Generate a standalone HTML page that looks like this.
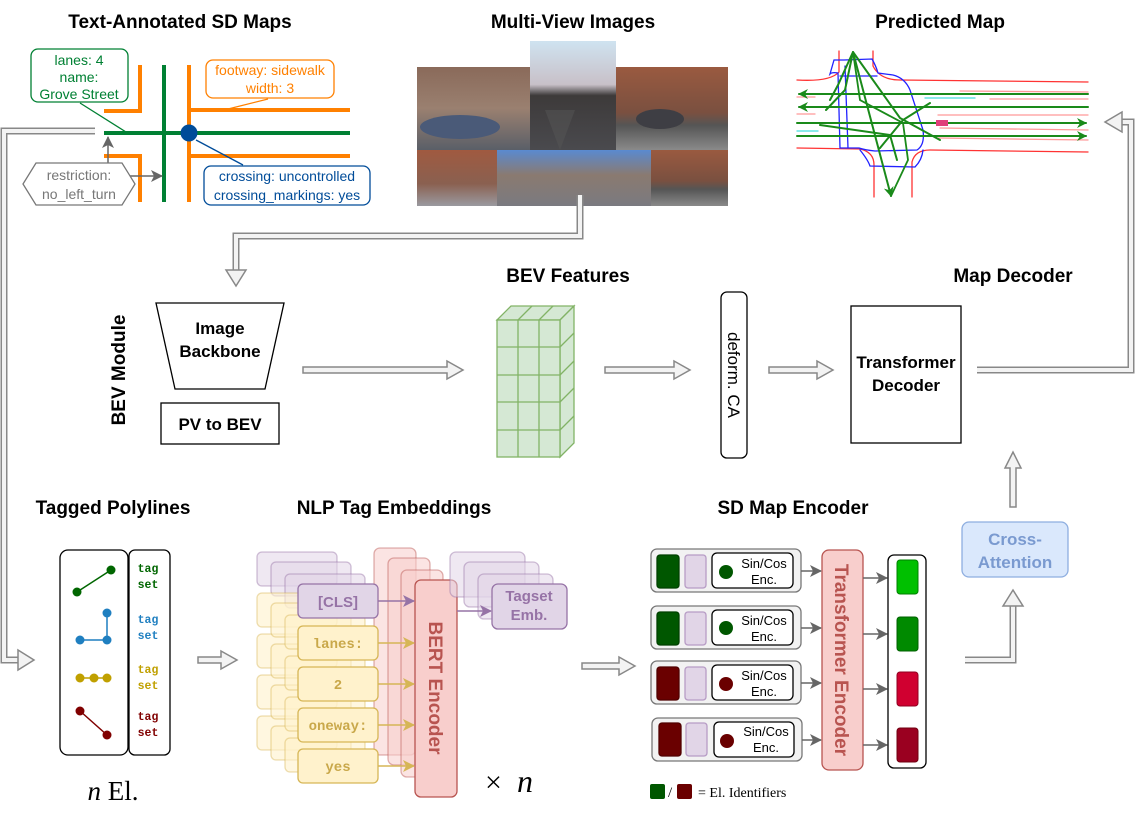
<!DOCTYPE html>
<html><head><meta charset="utf-8"><style>
html,body{margin:0;padding:0;background:#fff}
svg{display:block}
text{font-family:"Liberation Sans",sans-serif}
.t{font-weight:bold;font-size:19px;text-anchor:middle;fill:#000}
text.mono{font-family:"Liberation Mono",monospace;font-weight:bold}
text.serif{font-family:"Liberation Serif",serif}
</style></head><body>
<svg width="1136" height="820" viewBox="0 0 1136 820" xmlns="http://www.w3.org/2000/svg">
<defs>
<marker id="ag" markerWidth="8" markerHeight="8" refX="7" refY="4" orient="auto" markerUnits="userSpaceOnUse"><path d="M0,0 L8,4 L0,8 L2,4z" fill="#666"/></marker>
<marker id="ag2" markerWidth="12" markerHeight="12" refX="11" refY="6" orient="auto" markerUnits="userSpaceOnUse"><path d="M0,0 L12,6 L0,12 L3,6z" fill="#666"/></marker>
<marker id="ap" markerWidth="12" markerHeight="12" refX="11" refY="6" orient="auto" markerUnits="userSpaceOnUse"><path d="M0,0 L12,6 L0,12 L3,6z" fill="#9673a6"/></marker>
<marker id="ay" markerWidth="12" markerHeight="12" refX="11" refY="6" orient="auto" markerUnits="userSpaceOnUse"><path d="M0,0 L12,6 L0,12 L3,6z" fill="#d6b656"/></marker>
<marker id="gr" markerWidth="10" markerHeight="10" refX="9" refY="5" orient="auto" markerUnits="userSpaceOnUse"><path d="M0,0 L10,5 L0,10 L3,5z" fill="#1a8a1a"/></marker>
</defs>

<!-- Titles -->
<text class="t" x="180" y="28">Text-Annotated SD Maps</text>
<text class="t" x="573" y="28">Multi-View Images</text>
<text class="t" x="940" y="28">Predicted Map</text>
<text class="t" x="568" y="282">BEV Features</text>
<text class="t" x="1013" y="282">Map Decoder</text>
<text class="t" x="113" y="514">Tagged Polylines</text>
<text class="t" x="394" y="514">NLP Tag Embeddings</text>
<text class="t" x="793" y="514">SD Map Encoder</text>

<!-- SD map -->
<g fill="none" stroke="#ff8000" stroke-width="4">
<polyline points="140,65 140,111 104,111"/>
<polyline points="104,156 140,156 140,202"/>
<line x1="189" y1="65" x2="189" y2="202"/>
<line x1="189" y1="110" x2="350" y2="110"/>
<line x1="189" y1="156" x2="350" y2="156"/>
</g>
<g stroke="#008033" stroke-width="4">
<line x1="164" y1="65" x2="164" y2="202"/>
<line x1="104" y1="133" x2="350" y2="133"/>
</g>
<circle cx="189" cy="133" r="8.5" fill="#004c99"/>
<line x1="80" y1="103" x2="126" y2="132" stroke="#008033" stroke-width="1.3"/>
<line x1="268" y1="99" x2="228" y2="109" stroke="#ff8000" stroke-width="1.3"/>
<line x1="196" y1="140" x2="243" y2="165" stroke="#004c99" stroke-width="1.3"/>
<rect x="31" y="49" width="97" height="53" rx="7" fill="#fff" stroke="#008033" stroke-width="1.3"/>
<text x="79" y="65" font-size="14" fill="#008033" text-anchor="middle">lanes: 4</text>
<text x="79" y="82" font-size="14" fill="#008033" text-anchor="middle">name:</text>
<text x="79" y="99" font-size="14" fill="#008033" text-anchor="middle">Grove Street</text>
<rect x="206" y="60" width="128" height="38" rx="7" fill="#fff" stroke="#ff8000" stroke-width="1.3"/>
<text x="270" y="75" font-size="14" fill="#ff8000" text-anchor="middle">footway: sidewalk</text>
<text x="270" y="93" font-size="14" fill="#ff8000" text-anchor="middle">width: 3</text>
<rect x="204" y="166" width="166" height="39" rx="7" fill="#fff" stroke="#004c99" stroke-width="1.3"/>
<text x="287" y="181" font-size="14" fill="#004c99" text-anchor="middle">crossing: uncontrolled</text>
<text x="287" y="200" font-size="14" fill="#004c99" text-anchor="middle">crossing_markings: yes</text>
<line x1="108" y1="163" x2="108" y2="137" stroke="#666" stroke-width="1.5" marker-end="url(#ag2)"/>
<line x1="130" y1="176" x2="162" y2="176" stroke="#666" stroke-width="1.5" marker-end="url(#ag2)"/>
<polygon points="36,163 122,163 135,184 122,205 36,205 23,184" fill="#fff" stroke="#777" stroke-width="1.3"/>
<text x="79" y="180" font-size="14" fill="#777" text-anchor="middle">restriction:</text>
<text x="79" y="199" font-size="14" fill="#777" text-anchor="middle">no_left_turn</text>

<!-- Multi-view images -->
<defs>
<linearGradient id="g1" x1="0" y1="0" x2="0" y2="1"><stop offset="0" stop-color="#8a6a5a"/><stop offset="0.5" stop-color="#9a8070"/><stop offset="1" stop-color="#5a5f68"/></linearGradient>
<linearGradient id="g2" x1="0" y1="0" x2="0" y2="1"><stop offset="0" stop-color="#cfe3f0"/><stop offset="0.4" stop-color="#c8c0c8"/><stop offset="0.5" stop-color="#3d3a3a"/><stop offset="1" stop-color="#4a4a4e"/></linearGradient>
<linearGradient id="g3" x1="0" y1="0" x2="0" y2="1"><stop offset="0" stop-color="#9a5a40"/><stop offset="0.55" stop-color="#7a5040"/><stop offset="0.7" stop-color="#555"/><stop offset="1" stop-color="#8a8a8a"/></linearGradient>
<linearGradient id="g4" x1="0" y1="0" x2="0" y2="1"><stop offset="0" stop-color="#a05a40"/><stop offset="0.6" stop-color="#8a6050"/><stop offset="1" stop-color="#9a9aa0"/></linearGradient>
<linearGradient id="g5" x1="0" y1="0" x2="0" y2="1"><stop offset="0" stop-color="#5a8ad0"/><stop offset="0.45" stop-color="#8a7a70"/><stop offset="1" stop-color="#7a7a80"/></linearGradient>
</defs>
<rect x="417" y="67" width="113" height="83" fill="url(#g1)"/>
<rect x="530" y="41" width="86" height="109" fill="url(#g2)"/>
<rect x="616" y="67" width="112" height="83" fill="url(#g3)"/>
<rect x="417" y="150" width="80" height="56" fill="url(#g4)"/>
<rect x="497" y="150" width="154" height="56" fill="url(#g5)"/>
<rect x="651" y="150" width="77" height="56" fill="url(#g3)"/>
<ellipse cx="460" cy="127" rx="40" ry="12" fill="#4a5a78"/>
<ellipse cx="660" cy="119" rx="24" ry="10" fill="#3e3e44"/>
<path d="M560,150 L545,110 L575,110 Z" fill="#555" opacity="0.5"/>

<!-- Predicted map -->
<g fill="none" stroke-linecap="round">
<path d="M797,80 Q830,82 839,72 L839,51 M873,51 L873,66 Q880,80 900,80 L1088,82" stroke="#f33" stroke-width="1.3"/>
<path d="M797,148 L860,149 Q874,152 874,165 L874,197 M912,197 L912,162 Q915,150 930,150 L1088,152" stroke="#f33" stroke-width="1.3"/>
<path d="M960,91 L1088,92 M990,99 L1088,99 M797,97 L815,97 M797,114 L815,114 M938,115 L1088,115 M938,138 L1088,140 M940,128 L1088,130" stroke="#f99" stroke-width="1.3"/>
<path d="M925,98 L975,98 M797,131 L818,131" stroke="#4dd" stroke-width="1.3"/>
<path d="M834,60 L844,60 L872,59 Q876,66 878,73 L893,75 Q905,78 910,90 L923,130 Q925,145 917,150 L875,151 Q865,150 859,148 L840,148 L838,73 Q832,72 830,74 Z M840,76 L877,76 M845,66 L848,148 M860,150 Q868,160 870,166 L915,167 Q922,160 923,150" stroke="#22f" stroke-width="1.3"/>
<g stroke="#1a8a1a" stroke-width="2">
<line x1="1088" y1="94" x2="799" y2="94" marker-end="url(#gr)"/>
<line x1="1088" y1="107" x2="799" y2="107" marker-end="url(#gr)"/>
<line x1="797" y1="123" x2="1086" y2="123" marker-end="url(#gr)"/>
<line x1="797" y1="136" x2="1086" y2="136" marker-end="url(#gr)"/>
<line x1="853" y1="52" x2="891" y2="196" marker-end="url(#gr)"/>
<path d="M853,52 L860,100 L903,123 L908,160 L891,196" stroke-width="1.8"/>
<path d="M853,52 L838,85 L830,100 M853,52 L845,90 L826,110 M853,52 L900,118 L940,140 M930,103 L903,120 L880,148 M820,125 L890,135 L897,160"/>
</g>
</g>
<rect x="936" y="120" width="12" height="6" fill="#e0407a"/>

<!-- pipes -->
<g fill="none" stroke-linejoin="miter">
<polyline points="95,131 4,131 4,660 20,660" stroke="#888" stroke-width="7"/>
<polyline points="95,131 4,131 4,660 20,660" stroke="#f3f3f3" stroke-width="4"/>
<polyline points="580,195 580,236 236,236 236,272" stroke="#888" stroke-width="7"/>
<polyline points="580,195 580,236 236,236 236,272" stroke="#f3f3f3" stroke-width="4"/>
<polyline points="977,370 1131,370 1131,122 1120,122" stroke="#888" stroke-width="7"/>
<polyline points="977,370 1131,370 1131,122 1120,122" stroke="#f3f3f3" stroke-width="4"/>
<polyline points="965,660 1013,660 1013,604" stroke="#888" stroke-width="7"/>
<polyline points="965,660 1013,660 1013,604" stroke="#f3f3f3" stroke-width="4"/>
</g>
<g fill="#f3f3f3" stroke="#888" stroke-width="1.5">
<polygon points="18,650 34,660 18,670"/>
<polygon points="226,270 236,286 246,270"/>
<polygon points="1122,112 1105,122 1122,132"/>
<polygon points="1003,606 1013,590 1023,606"/>
<polygon points="303,367 447,367 447,361 463,370 447,379 447,373 303,373"/>
<polygon points="605,367 674,367 674,361 690,370 674,379 674,373 605,373"/>
<polygon points="769,367 817,367 817,361 833,370 817,379 817,373 769,373"/>
<polygon points="198,657 221,657 221,651 237,660 221,669 221,663 198,663"/>
<polygon points="582,663 619,663 619,657 635,666 619,675 619,669 582,669"/>
<polygon points="1010,507 1010,468 1005,468 1013,452 1021,468 1016,468 1016,507"/>
</g>

<!-- BEV module -->
<text x="118" y="370" font-size="19" font-weight="bold" text-anchor="middle" transform="rotate(-90 118 370)" dy="7">BEV Module</text>
<polygon points="156,303 284,303 265,389 175,389" fill="#fff" stroke="#000" stroke-width="1.3"/>
<text x="220" y="334" font-size="17" font-weight="bold" text-anchor="middle">Image</text>
<text x="220" y="357" font-size="17" font-weight="bold" text-anchor="middle">Backbone</text>
<rect x="161" y="403" width="118" height="41" fill="#fff" stroke="#000" stroke-width="1.3"/>
<text x="220" y="430" font-size="17" font-weight="bold" text-anchor="middle">PV to BEV</text>

<!-- cube -->
<g fill="#d5e8d4" stroke="#82b366" stroke-width="1.3">
<polygon points="497,320 511,306 574,306 560,320"/>
<polygon points="560,320 574,306 574,443 560,457"/>
<rect x="497" y="320" width="63" height="137"/>
<path d="M518,320 V457 M539,320 V457 M497,347 H560 M497,375 H560 M497,402 H560 M497,430 H560 M518,320 L532,306 M539,320 L553,306 M560,347 L574,333 M560,375 L574,361 M560,402 L574,388 M560,430 L574,416" fill="none"/>
</g>

<!-- deform CA -->
<rect x="721" y="292" width="26" height="166" rx="6" fill="#fff" stroke="#000" stroke-width="1.3"/>
<text x="734" y="375" font-size="17" text-anchor="middle" transform="rotate(90 734 375)" dy="6">deform. CA</text>

<!-- Transformer Decoder -->
<rect x="851" y="306" width="110" height="137" fill="#fff" stroke="#000" stroke-width="1.3"/>
<text x="906" y="368" font-size="17" font-weight="bold" text-anchor="middle">Transformer</text>
<text x="906" y="391" font-size="17" font-weight="bold" text-anchor="middle">Decoder</text>

<!-- Cross-Attention -->
<rect x="962" y="522" width="106" height="55" rx="7" fill="#dae8fc" stroke="#8eaee0" stroke-width="1.3"/>
<text x="1015" y="545" font-size="17" font-weight="bold" fill="#7a9ad0" text-anchor="middle">Cross-</text>
<text x="1015" y="568" font-size="17" font-weight="bold" fill="#7a9ad0" text-anchor="middle">Attention</text>

<!-- Tagged polylines -->
<rect x="60" y="550" width="68" height="205" rx="8" fill="#fff" stroke="#000" stroke-width="1.3"/>
<rect x="129" y="550" width="41" height="205" rx="6" fill="#fff" stroke="#000" stroke-width="1.3"/>
<g stroke-width="1.5">
<line x1="77" y1="592" x2="111" y2="570" stroke="#006600"/><circle cx="77" cy="592" r="4.5" fill="#006600"/><circle cx="111" cy="570" r="4.5" fill="#006600"/>
<polyline points="80,640 107,640 107,613" fill="none" stroke="#1f7fc0"/><circle cx="80" cy="640" r="4.5" fill="#1f7fc0"/><circle cx="107" cy="640" r="4.5" fill="#1f7fc0"/><circle cx="107" cy="613" r="4.5" fill="#1f7fc0"/>
<line x1="80" y1="678" x2="107" y2="678" stroke="#c0a000"/><circle cx="80" cy="678" r="4.5" fill="#c0a000"/><circle cx="94" cy="678" r="4.5" fill="#c0a000"/><circle cx="107" cy="678" r="4.5" fill="#c0a000"/>
<line x1="80" y1="711" x2="107" y2="735" stroke="#800000"/><circle cx="80" cy="711" r="4.5" fill="#800000"/><circle cx="107" cy="735" r="4.5" fill="#800000"/>
</g>
<g font-size="11.5" text-anchor="middle">
<text x="148" y="572" fill="#006600" class="mono">tag</text><text x="148" y="588" fill="#006600" class="mono">set</text>
<text x="148" y="623" fill="#1f7fc0" class="mono">tag</text><text x="148" y="639" fill="#1f7fc0" class="mono">set</text>
<text x="148" y="673" fill="#c0a000" class="mono">tag</text><text x="148" y="689" fill="#c0a000" class="mono">set</text>
<text x="148" y="720" fill="#800000" class="mono">tag</text><text x="148" y="736" fill="#800000" class="mono">set</text>
</g>
<text x="113" y="800" class="serif" font-size="27" text-anchor="middle"><tspan font-style="italic">n</tspan> El.</text>

<!-- NLP embeddings -->
<g stroke-width="1.3">
<g fill="#e1d5e7" fill-opacity="0.55" stroke="#9673a6" stroke-opacity="0.45">
<rect x="257" y="552" width="80" height="34" rx="5"/>
<rect x="271" y="562" width="80" height="34" rx="5"/>
<rect x="285" y="574" width="80" height="34" rx="5"/>
</g>
<g fill="#fff2cc" fill-opacity="0.6" stroke="#d6b656" stroke-opacity="0.45">
<rect x="257" y="593" width="80" height="34" rx="5"/><rect x="257" y="634" width="80" height="34" rx="5"/><rect x="257" y="675" width="80" height="34" rx="5"/><rect x="257" y="716" width="80" height="34" rx="5"/>
<rect x="271" y="603" width="80" height="34" rx="5"/><rect x="271" y="644" width="80" height="34" rx="5"/><rect x="271" y="685" width="80" height="34" rx="5"/><rect x="271" y="726" width="80" height="34" rx="5"/>
<rect x="285" y="615" width="80" height="34" rx="5"/><rect x="285" y="656" width="80" height="34" rx="5"/><rect x="285" y="697" width="80" height="34" rx="5"/><rect x="285" y="738" width="80" height="34" rx="5"/>
</g>
<g fill="#f8cecc" fill-opacity="0.55" stroke="#b85450" stroke-opacity="0.45">
<rect x="374" y="548" width="42" height="207" rx="6"/>
<rect x="388" y="558" width="42" height="207" rx="6"/>
<rect x="401" y="570" width="42" height="207" rx="6"/>
</g>
<rect x="415" y="580" width="42" height="217" rx="6" fill="#f8cecc" stroke="#b85450"/>
<rect x="298" y="584" width="80" height="34" rx="5" fill="#e1d5e7" stroke="#9673a6"/>
<rect x="298" y="626" width="80" height="34" rx="5" fill="#fff2cc" stroke="#d6b656"/>
<rect x="298" y="667" width="80" height="34" rx="5" fill="#fff2cc" stroke="#d6b656"/>
<rect x="298" y="708" width="80" height="34" rx="5" fill="#fff2cc" stroke="#d6b656"/>
<rect x="298" y="749" width="80" height="34" rx="5" fill="#fff2cc" stroke="#d6b656"/>
<g fill="#e1d5e7" fill-opacity="0.55" stroke="#9673a6" stroke-opacity="0.45">
<rect x="450" y="552" width="75" height="45" rx="6"/>
<rect x="464" y="562" width="75" height="45" rx="6"/>
<rect x="478" y="574" width="75" height="45" rx="6"/>
</g>
<rect x="492" y="584" width="75" height="45" rx="6" fill="#e1d5e7" stroke="#9673a6"/>
</g>
<text x="338" y="607" font-size="15" font-weight="bold" fill="#9673a6" text-anchor="middle">[CLS]</text>
<g font-size="14" fill="#c9a84a" text-anchor="middle">
<text x="338" y="648" class="mono">lanes:</text>
<text x="338" y="689" class="mono">2</text>
<text x="338" y="730" class="mono">oneway:</text>
<text x="338" y="771" class="mono">yes</text>
</g>
<text x="529" y="601" font-size="15" font-weight="bold" fill="#9673a6" text-anchor="middle">Tagset</text>
<text x="529" y="620" font-size="15" font-weight="bold" fill="#9673a6" text-anchor="middle">Emb.</text>
<text x="436" y="688" font-size="19" font-weight="bold" fill="#b85450" text-anchor="middle" transform="rotate(90 436 688)" dy="7">BERT Encoder</text>
<g stroke-width="1.5">
<line x1="378" y1="601" x2="414" y2="601" stroke="#9673a6" marker-end="url(#ap)"/>
<line x1="457" y1="611" x2="491" y2="611" stroke="#9673a6" marker-end="url(#ap)"/>
<line x1="378" y1="643" x2="414" y2="643" stroke="#d6b656" marker-end="url(#ay)"/>
<line x1="378" y1="684" x2="414" y2="684" stroke="#d6b656" marker-end="url(#ay)"/>
<line x1="378" y1="725" x2="414" y2="725" stroke="#d6b656" marker-end="url(#ay)"/>
<line x1="378" y1="766" x2="414" y2="766" stroke="#d6b656" marker-end="url(#ay)"/>
</g>
<text x="485" y="792" class="serif" font-size="30">×</text>
<text x="517" y="792" class="serif" font-size="32" font-style="italic">n</text>

<!-- SD Map Encoder -->
<g stroke-width="1.3">
<rect x="651" y="549" width="150" height="43" rx="6" fill="#f2f2f2" stroke="#777"/>
<rect x="657" y="555" width="22" height="33" rx="3" fill="#005700" stroke="#004000"/>
<rect x="685" y="555" width="21" height="33" rx="3" fill="#e1d5e7" stroke="#b79cc5"/>
<rect x="712" y="553" width="81" height="35" rx="5" fill="#fff" stroke="#000"/>
<circle cx="726" cy="572" r="7" fill="#005700"/>
<rect x="651" y="606" width="150" height="43" rx="6" fill="#f2f2f2" stroke="#777"/>
<rect x="657" y="612" width="22" height="33" rx="3" fill="#005700" stroke="#004000"/>
<rect x="685" y="612" width="21" height="33" rx="3" fill="#e1d5e7" stroke="#b79cc5"/>
<rect x="712" y="610" width="81" height="35" rx="5" fill="#fff" stroke="#000"/>
<circle cx="726" cy="628" r="7" fill="#005700"/>
<rect x="651" y="661" width="150" height="43" rx="6" fill="#f2f2f2" stroke="#777"/>
<rect x="657" y="667" width="22" height="33" rx="3" fill="#6a0000" stroke="#500000"/>
<rect x="685" y="667" width="21" height="33" rx="3" fill="#e1d5e7" stroke="#b79cc5"/>
<rect x="712" y="665" width="81" height="35" rx="5" fill="#fff" stroke="#000"/>
<circle cx="726" cy="684" r="7" fill="#6a0000"/>
<rect x="652" y="718" width="150" height="43" rx="6" fill="#f2f2f2" stroke="#777"/>
<rect x="659" y="723" width="22" height="33" rx="3" fill="#6a0000" stroke="#500000"/>
<rect x="686" y="723" width="21" height="33" rx="3" fill="#e1d5e7" stroke="#b79cc5"/>
<rect x="714" y="722" width="80" height="35" rx="5" fill="#fff" stroke="#000"/>
<circle cx="727" cy="741" r="7" fill="#6a0000"/>
</g>
<g font-size="13" text-anchor="middle">
<text x="764" y="568">Sin/Cos</text><text x="764" y="584">Enc.</text>
<text x="764" y="625">Sin/Cos</text><text x="764" y="641">Enc.</text>
<text x="764" y="680">Sin/Cos</text><text x="764" y="696">Enc.</text>
<text x="766" y="736">Sin/Cos</text><text x="766" y="752">Enc.</text>
</g>
<rect x="822" y="550" width="41" height="220" rx="7" fill="#f8cecc" stroke="#b85450" stroke-width="1.3"/>
<text x="842" y="660" font-size="19" font-weight="bold" fill="#b85450" text-anchor="middle" transform="rotate(90 842 660)" dy="7">Transformer Encoder</text>
<g stroke="#666" stroke-width="1.5">
<line x1="801" y1="571" x2="821" y2="571" marker-end="url(#ag2)"/>
<line x1="801" y1="628" x2="821" y2="628" marker-end="url(#ag2)"/>
<line x1="801" y1="683" x2="821" y2="683" marker-end="url(#ag2)"/>
<line x1="802" y1="740" x2="821" y2="740" marker-end="url(#ag2)"/>
<line x1="863" y1="578" x2="887" y2="578" marker-end="url(#ag2)"/>
<line x1="863" y1="634" x2="887" y2="634" marker-end="url(#ag2)"/>
<line x1="863" y1="689" x2="887" y2="689" marker-end="url(#ag2)"/>
<line x1="863" y1="745" x2="887" y2="745" marker-end="url(#ag2)"/>
</g>
<rect x="888" y="555" width="38" height="213" rx="6" fill="#fff" stroke="#000" stroke-width="1.3"/>
<rect x="897" y="560" width="21" height="34" rx="3" fill="#00c000" stroke="#008000"/>
<rect x="897" y="617" width="21" height="34" rx="3" fill="#008a00" stroke="#006000"/>
<rect x="897" y="672" width="21" height="34" rx="3" fill="#d00030" stroke="#900020"/>
<rect x="897" y="728" width="21" height="34" rx="3" fill="#9a0020" stroke="#700010"/>
<rect x="650" y="784" width="15" height="15" rx="2" fill="#005700"/>
<text x="668" y="797" font-size="15" class="serif">/</text>
<rect x="677" y="784" width="15" height="15" rx="2" fill="#6a0000"/>
<text x="698" y="797" font-size="14" class="serif">= El. Identifiers</text>
</svg>
</body></html>
